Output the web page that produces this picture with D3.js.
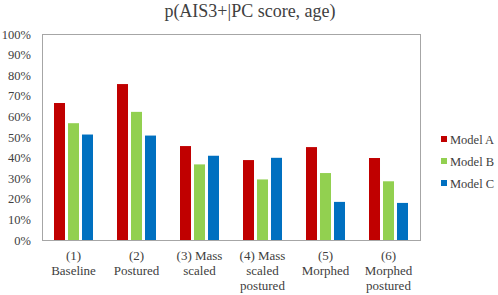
<!DOCTYPE html>
<html>
<head>
<meta charset="utf-8">
<title>p(AIS3+|PC score, age)</title>
<script src="https://cdn.jsdelivr.net/npm/d3@7"></script>
<style>
  body { margin: 0; background: #fff; }
  svg text { font-family: "Liberation Serif", "Times New Roman", serif; fill: #404040; }
  .axis path, .axis line { display: none; }
</style>
</head>
<body>
<script>
// data
var categories = ["(1)\nBaseline", "(2)\nPostured", "(3) Mass\nscaled", "(4) Mass\nscaled\npostured", "(5)\nMorphed", "(6)\nMorphed\npostured"];
var seriesNames = ["Model A", "Model B", "Model C"];
var modelA = [0.665, 0.757, 0.456, 0.388, 0.451, 0.398];
var modelB = [0.567, 0.622, 0.367, 0.294, 0.325, 0.285];
var modelC = [0.512, 0.507, 0.409, 0.399, 0.185, 0.180];
var colors = ["#c00000", "#92d050", "#0070c0"];
var yTicks = [0, 0.1, 0.2, 0.3, 0.4, 0.5, 0.6, 0.7, 0.8, 0.9, 1.0];

var w = 498, h = 295;
var pLeft = 42, pTop = 34, pRight = 420, pBottom = 240; // plot area

var svg = d3.select("body").append("svg").attr("width", w).attr("height", h);

var x0 = d3.scaleBand().domain(categories).range([pLeft, pRight]);
var x1 = d3.scaleBand().domain(seriesNames).range([12, 51]).paddingInner(0.214);
var y = d3.scaleLinear().domain([0, 1]).range([pBottom, pTop]);

// title
svg.append("text")
  .attr("x", 250).attr("y", 17)
  .attr("text-anchor", "middle")
  .attr("font-size", "18px")
  .text("p(AIS3+|PC score, age)");

// bars
var all = [modelA, modelB, modelC];
var g = svg.append("g");
categories.forEach(function(c, i) {
  seriesNames.forEach(function(s, j) {
    g.append("rect")
      .attr("x", x0(c) + x1(s))
      .attr("y", y(all[j][i]))
      .attr("width", x1.bandwidth())
      .attr("height", pBottom - y(all[j][i]))
      .attr("fill", colors[j]);
  });
});

// frame
svg.append("rect")
  .attr("x", pLeft).attr("y", pTop)
  .attr("width", pRight - pLeft).attr("height", pBottom - pTop)
  .attr("fill", "none").attr("stroke", "#a6a6a6").attr("stroke-width", 1)
  .attr("shape-rendering", "crispEdges");

// y axis
var yAxis = d3.axisLeft(y).tickValues(yTicks).tickFormat(d3.format(".0%")).tickSize(0).tickPadding(11);
svg.append("g").attr("class", "axis")
  .attr("transform", "translate(" + pLeft + ",0)")
  .call(yAxis)
  .selectAll("text").attr("font-size", "12.5px").attr("font-family", "Liberation Serif, serif").attr("fill", "#404040");

// x axis
var xAxis = d3.axisBottom(x0).tickSize(0).tickFormat("");
var xg = svg.append("g").attr("class", "axis")
  .attr("transform", "translate(0," + pBottom + ")")
  .call(xAxis);
xg.selectAll(".tick").each(function(d) {
  var lines = d.split("\n");
  var t = d3.select(this).append("text")
    .attr("text-anchor", "middle")
    .attr("font-size", "13px")
    .attr("font-family", "Liberation Serif, serif")
    .attr("fill", "#404040");
  lines.forEach(function(l, k) {
    t.append("tspan").attr("x", 0).attr("y", 20 + k * 15).text(l);
  });
});

// legend
var lg = svg.append("g");
seriesNames.forEach(function(s, j) {
  var ly = 139 + j * 22;
  lg.append("rect").attr("x", 441).attr("y", ly - 3).attr("width", 6).attr("height", 6).attr("fill", colors[j]);
  lg.append("text").attr("x", 450).attr("y", ly + 4.5)
    .attr("font-size", "12.5px")
    .text(s);
});
</script>
</body>
</html>
